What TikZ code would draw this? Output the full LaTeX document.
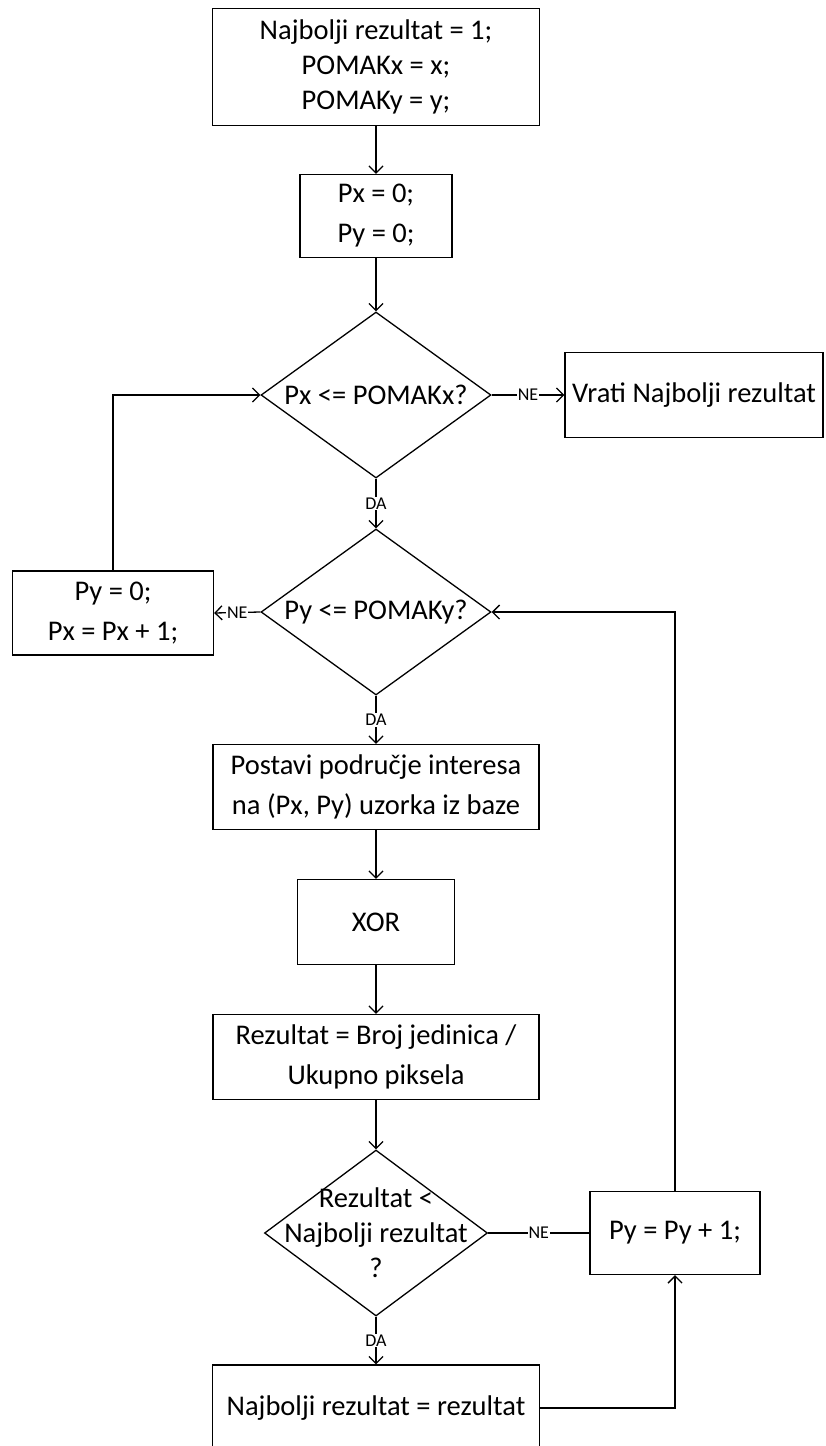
\documentclass[tikz,border=0pt]{standalone}
\usepackage{fontspec}
\setmainfont{Carlito}
\usetikzlibrary{shapes.geometric,arrows.meta}

\begin{document}
\begin{tikzpicture}[x=1pt,y=-1pt,line width=1.3pt,
  font=\fontsize{28.5}{35}\selectfont,
  proc/.style={draw,align=center,inner sep=0pt},
  twoline/.style={proc,font=\fontsize{28.5}{40}\selectfont},
  cond/.style={draw,shape=diamond,inner sep=0pt,minimum width=230pt,minimum height=166pt},
  tag/.style={font=\fontsize{18}{20}\selectfont,fill=white,inner sep=1pt},
  arr/.style={-{Straight Barb[length=7pt,width=14pt]}}]
\def\M{376}
\path[use as bounding box,clip] (0,0) rectangle (825,1446);
\node[proc,minimum width=327pt,minimum height=117pt](init) at (\M,67)
  {Najbolji rezultat = 1;\\POMAKx = x;\\POMAKy = y;};
\node[twoline,minimum width=152pt,minimum height=83pt](zero) at (\M,216){Px = 0;\\Py = 0;};
\node[cond,label={center:Px <= POMAKx?}](dx) at (\M,395){};
\node[proc,minimum width=258pt,minimum height=85pt](vrati) at (694,395){Vrati Najbolji rezultat};
\node[cond,label={center:Py <= POMAKy?}](dy) at (\M,612){};
\node[twoline,minimum width=201pt,minimum height=84pt](incx) at (113,613){Py = 0;\\Px = Px + 1;};
\node[twoline,minimum width=326pt,minimum height=85pt](roi) at (\M,787)
  {Postavi područje interesa\\na (Px, Py) uzorka iz baze};
\node[proc,minimum width=157pt,minimum height=85pt](xor) at (\M,922){XOR};
\node[twoline,minimum width=326pt,minimum height=85pt](res) at (\M,1057)
  {Rezultat = Broj jedinica /\\Ukupno piksela};
\node[cond,minimum width=223pt,label={[align=center]center:Rezultat <\\Najbolji rezultat\\?}](dr) at (\M,1233){};
\node[proc,minimum width=170pt,minimum height=83pt](incy) at (675,1233){Py = Py + 1;};
\node[proc,minimum width=327pt,minimum height=86pt](best) at (\M,1408){Najbolji rezultat = rezultat};

\draw[arr](init)--(zero);
\draw[arr](zero)--(dx);
\draw[arr](dx.east)--node[tag]{NE}(vrati.west);
\draw[arr](dx.south)--node[tag]{DA}(dy.north);
\draw[arr](dy.west)--node[tag]{NE}(incx.east);
\draw[arr](incx.north)|-(dx.west);
\draw[arr](dy.south)--node[tag]{DA}(roi.north);
\draw[arr](roi)--(xor);
\draw[arr](xor)--(res);
\draw[arr](res)--(dr);
\draw(dr.east)--node[tag]{NE}(incy.west);
\draw[arr](incy.north)|-(dy.east);
\draw[arr](dr.south)--node[tag]{DA}(best.north);
\draw[arr](best.east)-|(incy.south);
\end{tikzpicture}
\end{document}
